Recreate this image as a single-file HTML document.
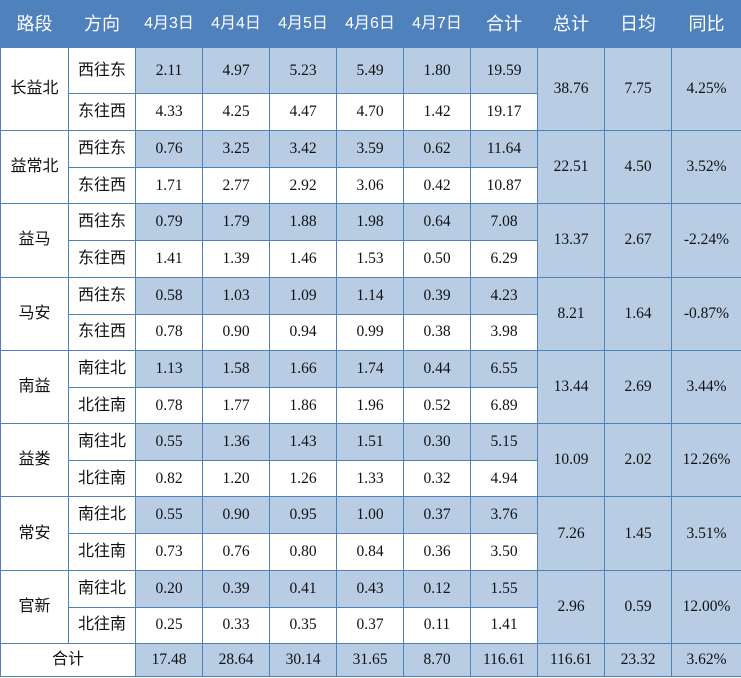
<!DOCTYPE html>
<html><head><meta charset="utf-8"><style>
html,body{margin:0;padding:0;background:#fff;width:741px;height:678px;overflow:hidden}
table{border-collapse:collapse;table-layout:fixed;width:741px;font-family:"Liberation Serif",serif;font-size:15.5px;color:#111}
td,th{border:1px solid #4f81bd;text-align:center;padding:0;vertical-align:middle;line-height:18px;overflow:hidden}
th{background:#4f81bd;color:#fff;font-weight:normal;font-family:"Liberation Sans","Noto Sans CJK SC",sans-serif;font-size:18px;height:46px;border-color:#4f81bd}
th.d{font-size:16px}
.b{background:#b8cce4}
.z{font-family:"Liberation Sans","Noto Sans CJK SC",sans-serif;font-size:16px}
tr.r1 td{height:36px}
tr.r2 td{height:35.3px}
tr.f td{height:45px}
tr.g td{height:36px}
tr.t td{height:32px}
</style></head><body>
<table>
<colgroup><col style="width:68px"><col style="width:67px"><col style="width:67px"><col style="width:67px"><col style="width:67px"><col style="width:67px"><col style="width:67px"><col style="width:67px"><col style="width:67px"><col style="width:67px"><col style="width:70px"></colgroup>
<tr><th>路段</th><th>方向</th><th class="d">4月3日</th><th class="d">4月4日</th><th class="d">4月5日</th><th class="d">4月6日</th><th class="d">4月7日</th><th>合计</th><th>总计</th><th>日均</th><th>同比</th></tr>

<tr class="r1 f"><td rowspan="2" class="z">长益北</td><td class="z">西往东</td><td class="b">2.11</td><td class="b">4.97</td><td class="b">5.23</td><td class="b">5.49</td><td class="b">1.80</td><td class="b">19.59</td><td rowspan="2" class="b">38.76</td><td rowspan="2" class="b">7.75</td><td rowspan="2" class="b">4.25%</td></tr>
<tr class="r2 g"><td class="z">东往西</td><td>4.33</td><td>4.25</td><td>4.47</td><td>4.70</td><td>1.42</td><td>19.17</td></tr>

<tr class="r1"><td rowspan="2" class="z">益常北</td><td class="z">西往东</td><td class="b">0.76</td><td class="b">3.25</td><td class="b">3.42</td><td class="b">3.59</td><td class="b">0.62</td><td class="b">11.64</td><td rowspan="2" class="b">22.51</td><td rowspan="2" class="b">4.50</td><td rowspan="2" class="b">3.52%</td></tr>
<tr class="r2"><td class="z">东往西</td><td>1.71</td><td>2.77</td><td>2.92</td><td>3.06</td><td>0.42</td><td>10.87</td></tr>

<tr class="r1"><td rowspan="2" class="z">益马</td><td class="z">西往东</td><td class="b">0.79</td><td class="b">1.79</td><td class="b">1.88</td><td class="b">1.98</td><td class="b">0.64</td><td class="b">7.08</td><td rowspan="2" class="b">13.37</td><td rowspan="2" class="b">2.67</td><td rowspan="2" class="b">-2.24%</td></tr>
<tr class="r2"><td class="z">东往西</td><td>1.41</td><td>1.39</td><td>1.46</td><td>1.53</td><td>0.50</td><td>6.29</td></tr>

<tr class="r1"><td rowspan="2" class="z">马安</td><td class="z">西往东</td><td class="b">0.58</td><td class="b">1.03</td><td class="b">1.09</td><td class="b">1.14</td><td class="b">0.39</td><td class="b">4.23</td><td rowspan="2" class="b">8.21</td><td rowspan="2" class="b">1.64</td><td rowspan="2" class="b">-0.87%</td></tr>
<tr class="r2"><td class="z">东往西</td><td>0.78</td><td>0.90</td><td>0.94</td><td>0.99</td><td>0.38</td><td>3.98</td></tr>

<tr class="r1"><td rowspan="2" class="z">南益</td><td class="z">南往北</td><td class="b">1.13</td><td class="b">1.58</td><td class="b">1.66</td><td class="b">1.74</td><td class="b">0.44</td><td class="b">6.55</td><td rowspan="2" class="b">13.44</td><td rowspan="2" class="b">2.69</td><td rowspan="2" class="b">3.44%</td></tr>
<tr class="r2"><td class="z">北往南</td><td>0.78</td><td>1.77</td><td>1.86</td><td>1.96</td><td>0.52</td><td>6.89</td></tr>

<tr class="r1"><td rowspan="2" class="z">益娄</td><td class="z">南往北</td><td class="b">0.55</td><td class="b">1.36</td><td class="b">1.43</td><td class="b">1.51</td><td class="b">0.30</td><td class="b">5.15</td><td rowspan="2" class="b">10.09</td><td rowspan="2" class="b">2.02</td><td rowspan="2" class="b">12.26%</td></tr>
<tr class="r2"><td class="z">北往南</td><td>0.82</td><td>1.20</td><td>1.26</td><td>1.33</td><td>0.32</td><td>4.94</td></tr>

<tr class="r1"><td rowspan="2" class="z">常安</td><td class="z">南往北</td><td class="b">0.55</td><td class="b">0.90</td><td class="b">0.95</td><td class="b">1.00</td><td class="b">0.37</td><td class="b">3.76</td><td rowspan="2" class="b">7.26</td><td rowspan="2" class="b">1.45</td><td rowspan="2" class="b">3.51%</td></tr>
<tr class="r2"><td class="z">北往南</td><td>0.73</td><td>0.76</td><td>0.80</td><td>0.84</td><td>0.36</td><td>3.50</td></tr>

<tr class="r1"><td rowspan="2" class="z">官新</td><td class="z">南往北</td><td class="b">0.20</td><td class="b">0.39</td><td class="b">0.41</td><td class="b">0.43</td><td class="b">0.12</td><td class="b">1.55</td><td rowspan="2" class="b">2.96</td><td rowspan="2" class="b">0.59</td><td rowspan="2" class="b">12.00%</td></tr>
<tr class="r2"><td class="z">北往南</td><td>0.25</td><td>0.33</td><td>0.35</td><td>0.37</td><td>0.11</td><td>1.41</td></tr>

<tr class="t"><td colspan="2" class="z">合计</td><td class="b">17.48</td><td class="b">28.64</td><td class="b">30.14</td><td class="b">31.65</td><td class="b">8.70</td><td class="b">116.61</td><td class="b">116.61</td><td class="b">23.32</td><td class="b">3.62%</td></tr>
</table>
</body></html>
